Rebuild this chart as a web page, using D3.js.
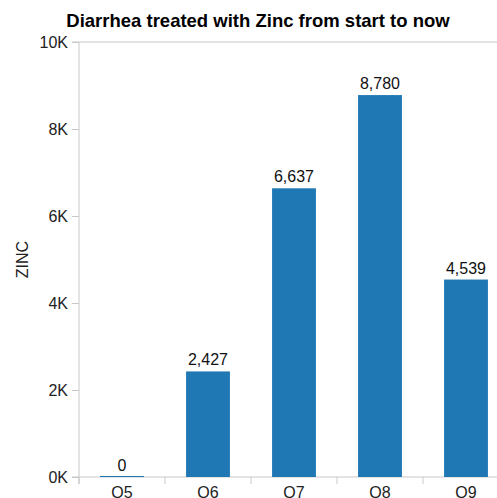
<!DOCTYPE html>
<html>
<head>
<meta charset="utf-8">
<script src="https://cdn.jsdelivr.net/npm/d3@7"></script>
<style>
  body { margin: 0; background: #fff; }
  text { font-family: "Liberation Sans", Arial, sans-serif; }
</style>
</head>
<body>
<div id="chart"></div>
<script>
// data
var quarters = ["Q5", "Q6", "Q7", "Q8", "Q9"];
var zincValues = [0, 2427, 6637, 8780, 4539];
var yTicks = [0, 2000, 4000, 6000, 8000, 10000];

var width = 497, height = 498;
var margin = {top: 42, left: 79, bottom: 21};

var svg = d3.select("#chart")
  .append("svg")
    .attr("width", width)
    .attr("height", height);

// x scale runs past the right edge, as in the original
var x = d3.scaleBand()
  .domain(quarters)
  .range([margin.left, margin.left + 430])
  .paddingInner(0.49)
  .paddingOuter(0.245);

var y = d3.scaleLinear()
  .domain([0, 10000])
  .range([height - margin.bottom, margin.top]);

var axisColor = "#c8c8c8";

// top border line
svg.append("line")
  .attr("x1", 72).attr("x2", width)
  .attr("y1", y(10000)).attr("y2", y(10000))
  .attr("stroke", axisColor);

// y axis
var yAxis = svg.append("g")
  .attr("transform", "translate(" + margin.left + ",0)")
  .call(d3.axisLeft(y).tickValues(yTicks).tickFormat(d => (d / 1000) + "K").tickSize(7).tickPadding(4));
yAxis.select(".domain").remove();
yAxis.selectAll(".tick line").attr("stroke", axisColor);
yAxis.selectAll(".tick text").attr("font-size", "16px").attr("fill", "#222");
svg.append("line")
  .attr("x1", margin.left).attr("x2", margin.left)
  .attr("y1", y(10000)).attr("y2", y(0) + 7)
  .attr("stroke", axisColor);

// x axis line + ticks at band boundaries
svg.append("line")
  .attr("x1", 72).attr("x2", width)
  .attr("y1", y(0)).attr("y2", y(0))
  .attr("stroke", axisColor);
var step = x.step();
var bounds = d3.range(quarters.length + 1).map(i => x.range()[0] + i * step);
svg.selectAll(".xtick")
  .data(bounds)
  .enter()
  .append("line")
    .attr("x1", d => d).attr("x2", d => d)
    .attr("y1", y(0)).attr("y2", y(0) + 7)
    .attr("stroke", axisColor);
svg.selectAll(".xlabel")
  .data(quarters)
  .enter()
  .append("text")
    .attr("x", d => x(d) + x.bandwidth() / 2)
    .attr("y", y(0) + 21)
    .attr("text-anchor", "middle")
    .attr("font-size", "16px")
    .attr("fill", "#222")
    .text(d => d);

// bars
svg.selectAll(".bar")
  .data(zincValues)
  .enter()
  .append("rect")
    .attr("x", (d, i) => x(quarters[i]))
    .attr("y", d => Math.min(y(d), y(0) - 1))
    .attr("width", x.bandwidth())
    .attr("height", d => Math.max(1, y(0) - y(d)))
    .attr("fill", "#1f77b4");

// value labels
svg.selectAll(".val")
  .data(zincValues)
  .enter()
  .append("text")
    .attr("x", (d, i) => x(quarters[i]) + x.bandwidth() / 2)
    .attr("y", d => y(d) - 6)
    .attr("text-anchor", "middle")
    .attr("font-size", "16px")
    .attr("fill", "#111")
    .text(d => d3.format(",")(d));

// axis title
svg.append("text")
  .attr("transform", "translate(28," + ((y(0) + y(10000)) / 2) + ") rotate(-90)")
  .attr("text-anchor", "middle")
  .attr("font-size", "16px")
  .attr("fill", "#222")
  .text("ZINC");

// chart title
svg.append("text")
  .attr("x", 258)
  .attr("y", 27)
  .attr("text-anchor", "middle")
  .attr("font-size", "18.5px")
  .attr("font-weight", "bold")
  .attr("fill", "#000")
  .text("Diarrhea treated with Zinc from start to now");
</script>
</body>
</html>
